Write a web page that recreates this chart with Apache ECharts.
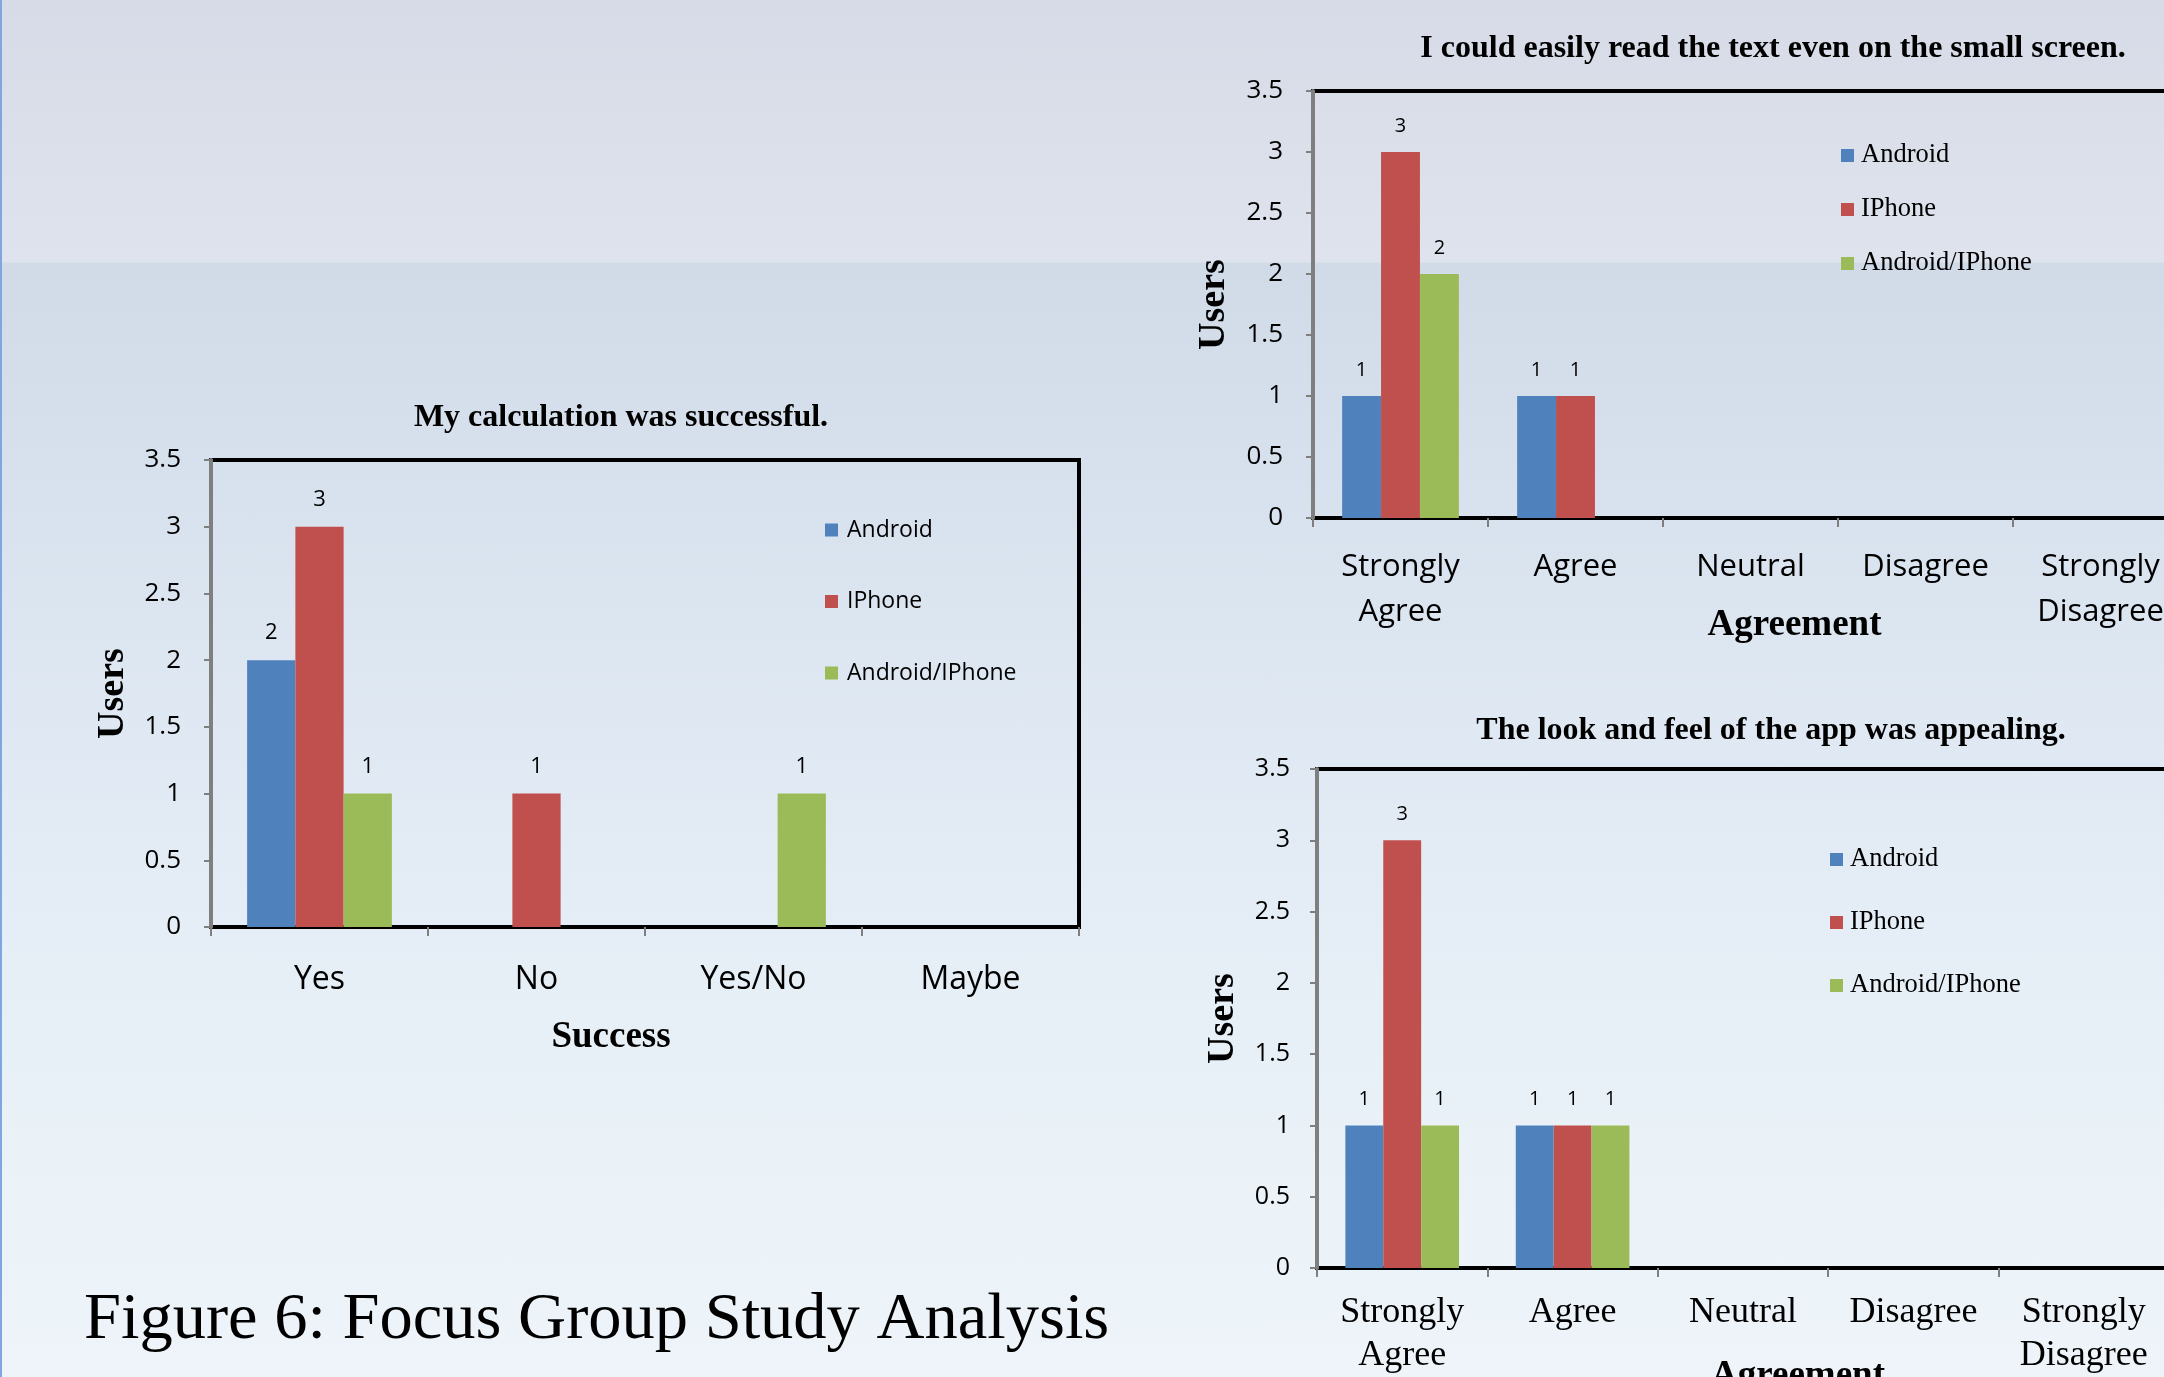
<!DOCTYPE html>
<html>
<head>
<meta charset="utf-8">
<script src="https://cdn.jsdelivr.net/npm/echarts@6/dist/echarts.min.js"></script>
<style>
html,body{margin:0;padding:0;width:2164px;height:1377px;overflow:hidden;}
#bg{position:absolute;left:0;top:0;width:2164px;height:1377px;
 background:linear-gradient(to bottom,#d6dbe7 0px,#dfe3ed 262px,#d1dae7 263px,#d8e2ee 500px,#e3ecf5 850px,#eaf2f8 1150px,#eef4f9 1377px);
 border-left:2px solid #7ea7df;box-sizing:border-box;}
#chart{position:absolute;left:0;top:0;width:2164px;height:1377px;}
</style>
</head>
<body>
<div id="bg"></div>
<div id="chart"></div>
<script>
const seriesNames = ['Android', 'IPhone', 'Android/IPhone'];
const colors = ['#4f81bd', '#c0504d', '#9bbb59'];

const catSuccess = ['Yes', 'No', 'Yes/No', 'Maybe'];
const calcAndroid = [2, 0, 0, 0];
const calcIPhone = [3, 1, 0, 0];
const calcBoth = [1, 0, 1, 0];

const catAgree = ['Strongly\nAgree', 'Agree', 'Neutral', 'Disagree', 'Strongly\nDisagree'];
const readAndroid = [1, 1, 0, 0, 0];
const readIPhone = [3, 1, 0, 0, 0];
const readBoth = [2, 0, 0, 0, 0];

const lookAndroid = [1, 1, 0, 0, 0];
const lookIPhone = [3, 1, 0, 0, 0];
const lookBoth = [1, 1, 0, 0, 0];

const titles = ['My calculation was successful.', 'I could easily read the text even on the small screen.', 'The look and feel of the app was appealing.'];
const caption = 'Figure 6: Focus Group Study Analysis';
const xNames = ['Success', 'Agreement', 'Agreement'];
const yName = 'Users';
const yMin = 0, yMax = 3.5, yStep = 0.5;

const SANS = "'Open Sans', 'Liberation Sans', sans-serif";
const SERIF = "'Liberation Serif', 'DejaVu Serif', serif";

const chart = echarts.init(document.getElementById('chart'), null, {renderer: 'canvas'});

function yAxisCfg(gi, gap, labelSize, labelMargin) {
  return {
    type: 'value', gridIndex: gi, min: yMin, max: yMax, interval: yStep, z: 3,
    name: yName, nameLocation: 'middle', nameGap: gap, nameMoveOverlap: false,
    nameTextStyle: {fontFamily: SERIF, fontWeight: 'bold', fontSize: 38, color: '#000'},
    axisLine: {show: true, lineStyle: {color: '#7f7f7f', width: 4}},
    axisTick: {show: true, inside: false, length: 7, lineStyle: {color: '#7f7f7f', width: 2}},
    axisLabel: {fontFamily: SANS, fontSize: labelSize, color: '#000', margin: labelMargin},
    splitLine: {show: false}
  };
}
function xAxisCfg(gi, cats, name, nameGap, namePad, labelFont, labelSize, labelLH, labelMargin) {
  return {
    type: 'category', gridIndex: gi, data: cats,
    name: name, nameLocation: 'middle', nameGap: nameGap, nameMoveOverlap: false,
    nameTextStyle: {fontFamily: SERIF, fontWeight: 'bold', fontSize: 37, color: '#000', padding: namePad},
    axisLine: {show: true, lineStyle: {color: '#000', width: 4}},
    axisTick: {show: true, length: 9, lineStyle: {color: '#7f7f7f', width: 2}},
    axisLabel: {fontFamily: labelFont, fontSize: labelSize, lineHeight: labelLH, color: '#000', margin: labelMargin, interval: 0}
  };
}
function barSeries(name, idx, gi, data, lblSize) {
  return {
    type: 'bar', name: name, xAxisIndex: gi, yAxisIndex: gi, data: data,
    barGap: '0%', barCategoryGap: '33.3%',
    itemStyle: {color: colors[idx]},
    label: {show: true, position: 'top', distance: 16, fontFamily: SANS, fontSize: lblSize, color: '#000',
      formatter: p => (p.value ? String(p.value) : '')},
    emphasis: {disabled: true}
  };
}
function legendCfg(left, top, font, size, gap, pad) {
  return {
    orient: 'vertical', left: left, top: top, itemGap: gap, itemWidth: 13, itemHeight: 13,
    icon: 'rect', padding: 0, data: seriesNames,
    textStyle: {fontFamily: font, fontSize: size, color: '#000', lineHeight: 26, padding: [0, 0, 0, pad]}
  };
}
function gridCfg(left, top, width, height) {
  return {left: left, top: top, width: width, height: height, show: true, borderColor: '#000', borderWidth: 4,
    backgroundColor: 'transparent', containLabel: false, outerBoundsMode: 'none'};
}

const option = {
  animation: false,
  backgroundColor: 'transparent',
  title: [
    {text: titles[0], left: 621, top: 402, textAlign: 'center', padding: 0,
     textStyle: {fontFamily: SERIF, fontWeight: 'bold', fontSize: 32, color: '#000'}},
    {text: titles[1], left: 1773, top: 33, textAlign: 'center', padding: 0,
     textStyle: {fontFamily: SERIF, fontWeight: 'bold', fontSize: 32, color: '#000'}},
    {text: titles[2], left: 1771, top: 715, textAlign: 'center', padding: 0,
     textStyle: {fontFamily: SERIF, fontWeight: 'bold', fontSize: 32, color: '#000'}},
    {text: caption, left: 84, top: 1287, padding: 0,
     textStyle: {fontFamily: SERIF, fontWeight: 'normal', fontSize: 66.5, color: '#000'}}
  ],
  legend: [
    legendCfg(825, 517, SANS, 23, 45.5, 4),
    legendCfg(1841, 142, SERIF, 26.5, 27, 2),
    legendCfg(1830, 846, SERIF, 26.5, 36, 2)
  ],
  grid: [
    gridCfg(211, 460, 868, 467),
    gridCfg(1313, 91, 875, 427),
    gridCfg(1317, 769, 852, 499)
  ],
  xAxis: [
    xAxisCfg(0, catSuccess, xNames[0], 92, [0, 68, 0, 0], SANS, 32, 40, 33),
    xAxisCfg(1, catAgree, xNames[1], 89, [0, 0, 0, 88], SANS, 31, 45, 27),
    xAxisCfg(2, catAgree, xNames[2], 90, [0, 0, 0, 110], SERIF, 36, 43, 23)
  ],
  yAxis: [
    yAxisCfg(0, 79, 26, 30),
    yAxisCfg(1, 80, 26, 30),
    yAxisCfg(2, 75, 25, 27)
  ],
  series: [
    barSeries(seriesNames[0], 0, 0, calcAndroid, 22),
    barSeries(seriesNames[1], 1, 0, calcIPhone, 22),
    barSeries(seriesNames[2], 2, 0, calcBoth, 22),
    barSeries(seriesNames[0], 0, 1, readAndroid, 20),
    barSeries(seriesNames[1], 1, 1, readIPhone, 20),
    barSeries(seriesNames[2], 2, 1, readBoth, 20),
    barSeries(seriesNames[0], 0, 2, lookAndroid, 20),
    barSeries(seriesNames[1], 1, 2, lookIPhone, 20),
    barSeries(seriesNames[2], 2, 2, lookBoth, 20)
  ]
};
chart.setOption(option);
</script>
</body>
</html>
